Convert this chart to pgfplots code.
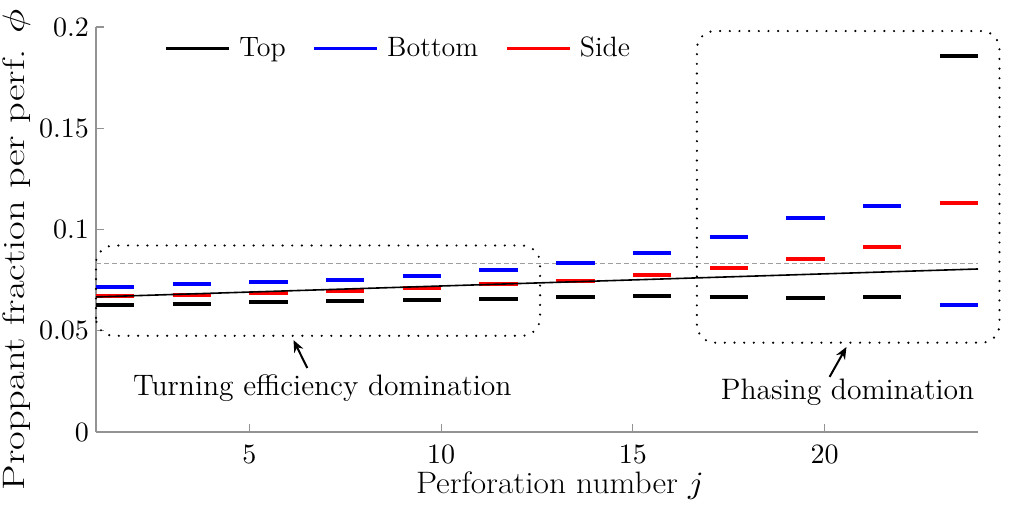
\documentclass[border=0pt]{standalone}
\usepackage{pgfplots}
\pgfplotsset{compat=1.18}
\usetikzlibrary{arrows.meta}
\DeclareFontShape{OT1}{cmr}{m}{n}{<->cmr10}{}
\DeclareFontShape{OML}{cmm}{m}{it}{<->cmmi10}{}
\begin{document}
\begin{tikzpicture}
\begin{axis}[
  scale only axis, width=441pt, height=202.5pt,
  xmin=1, xmax=24, ymin=0, ymax=0.2,
  axis x line*=bottom, axis y line*=left,
  axis line style={draw=gray!85, line width=0.6pt},
  tick style={draw=gray!85, line width=0.6pt},
  tick align=inside, major tick length=4pt,
  xtick={5,10,15,20}, ytick={0,0.05,0.1,0.15,0.2},
  scaled y ticks=false,
  yticklabel style={/pgf/number format/fixed, /pgf/number format/precision=2},
  ticklabel style={font=\fontsize{14}{16}\selectfont},
  xticklabel style={inner sep=0pt, yshift=-6.5pt},
  xlabel={Perforation number $j$},
  ylabel={Proppant fraction per perf. $\phi$},
  every axis x label/.style={at={(rel axis cs:0.526,-0.152)}, anchor=base, inner sep=0pt, xscale=1.08, font=\fontsize{15.5}{18}\selectfont},
  every axis y label/.style={at={(rel axis cs:-0.0816,0.45)}, rotate=90, xscale=1.31, anchor=base, inner sep=0pt, font=\fontsize{15.5}{18}\selectfont},
  clip=false, unbounded coords=jump,
  legend columns=3,
  legend style={draw=none, fill=none, inner sep=0pt, outer sep=0pt,
    at={(rel axis cs:0.078,0.948)}, anchor=west,
    font=\fontsize{14}{16}\selectfont,
    /tikz/every even column/.append style={column sep=11.5pt}},
  legend image code/.code={\draw[#1, line width=1.5pt] (0pt,0pt) -- (31.5pt,0pt); \path (33.5pt,0pt);},
]
\coordinate (O) at (rel axis cs:0,0);
% reference 1/12
\addplot[forget plot, gray!75, line width=0.5pt, dash pattern=on 2.5pt off 1.5pt] coordinates {(1,0.08333) (24,0.08333)};
% Top
\addplot[black, line width=2pt] coordinates {
(1,0.0626) (2,0.0626) (2,nan)
(3,0.0634) (4,0.0634) (4,nan)
(5,0.0640) (6,0.0640) (6,nan)
(7,0.0647) (8,0.0647) (8,nan)
(9,0.0654) (10,0.0654) (10,nan)
(11,0.0658) (12,0.0658) (12,nan)
(13,0.0667) (14,0.0667) (14,nan)
(15,0.0673) (16,0.0673) (16,nan)
(17,0.0667) (18,0.0667) (18,nan)
(19,0.0662) (20,0.0662) (20,nan)
(21,0.0665) (22,0.0665) (22,nan)
(23,0.1858) (24,0.1858)
};
\addlegendentry{Top}
% Bottom
\addplot[blue, line width=2pt] coordinates {
(1,0.0718) (2,0.0718) (2,nan)
(3,0.0729) (4,0.0729) (4,nan)
(5,0.0739) (6,0.0739) (6,nan)
(7,0.0751) (8,0.0751) (8,nan)
(9,0.0770) (10,0.0770) (10,nan)
(11,0.0798) (12,0.0798) (12,nan)
(13,0.0835) (14,0.0835) (14,nan)
(15,0.0882) (16,0.0882) (16,nan)
(17,0.0961) (18,0.0961) (18,nan)
(19,0.1058) (20,0.1058) (20,nan)
(21,0.1116) (22,0.1116) (22,nan)
(23,0.0627) (24,0.0627)
};
\addlegendentry{Bottom}
% Side
\addplot[red, line width=2pt] coordinates {
(1,0.0670) (2,0.0670) (2,nan)
(3,0.0678) (4,0.0678) (4,nan)
(5,0.0688) (6,0.0688) (6,nan)
(7,0.0698) (8,0.0698) (8,nan)
(9,0.0710) (10,0.0710) (10,nan)
(11,0.0729) (12,0.0729) (12,nan)
(13,0.0746) (14,0.0746) (14,nan)
(15,0.0774) (16,0.0774) (16,nan)
(17,0.0808) (18,0.0808) (18,nan)
(19,0.0853) (20,0.0853) (20,nan)
(21,0.0915) (22,0.0915) (22,nan)
(23,0.1132) (24,0.1132)
};
\addlegendentry{Side}
% trend line
\addplot[forget plot, black, line width=0.8pt] coordinates {(1,0.0667) (24,0.0805)};
% annotations
\draw[black, line width=1.2pt, dash pattern=on 0pt off 4.83pt, line cap=round, rounded corners=9pt]
  (axis cs:1.0,0.0475) rectangle (axis cs:12.58,0.0921);
\draw[black, line width=1.2pt, dash pattern=on 0pt off 4.83pt, line cap=round, rounded corners=9pt]
  (axis cs:16.67,0.0441) rectangle (axis cs:24.56,0.198);
\draw[black, line width=1pt, -{Stealth[length=6pt,width=5pt]}] (axis cs:6.51,0.0316) -- (axis cs:6.15,0.0454);
\draw[black, line width=1pt, -{Stealth[length=6pt,width=5pt]}] (axis cs:20.13,0.0272) -- (axis cs:20.57,0.042);
\node[anchor=base, inner sep=0pt, font=\fontsize{14.8}{17}\selectfont] at (axis cs:6.9,0.0179) {Turning efficiency domination};
\node[anchor=base, inner sep=0pt, font=\fontsize{14.8}{17}\selectfont] at (axis cs:20.6,0.0158) {Phasing domination};
\end{axis}
\path ([shift={(-48pt,-40.5pt)}]O) rectangle ++(512pt,256.5pt);
\end{tikzpicture}
\end{document}
